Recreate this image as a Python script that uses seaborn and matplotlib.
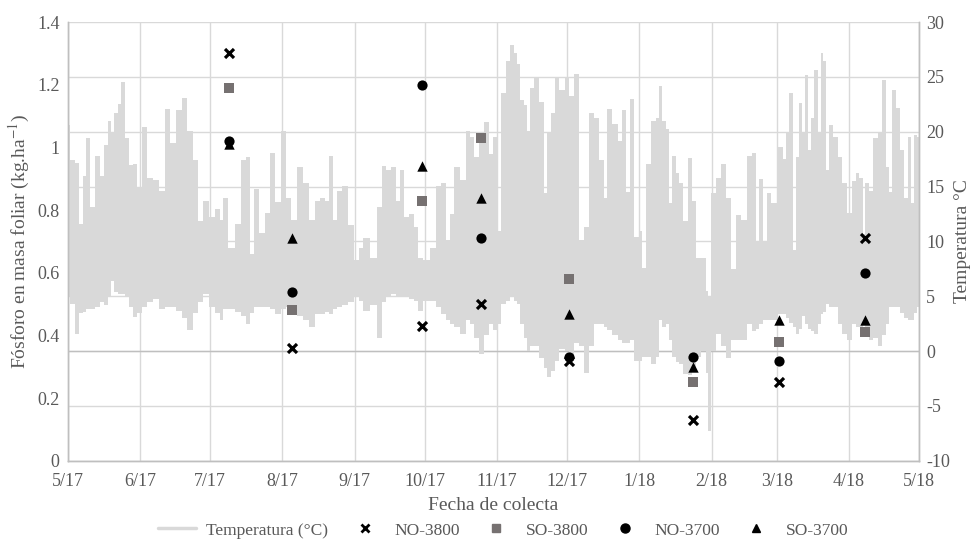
import numpy as np
import pandas as pd
import matplotlib
matplotlib.use("Agg")
import matplotlib.pyplot as plt
import matplotlib.dates as mdates
from matplotlib.lines import Line2D
from matplotlib.ticker import FuncFormatter
import seaborn as sns

# %% data
# collection dates and foliar phosphorus (kg/ha)
sample_dates = ["2017-07-09", "2017-08-05", "2017-09-30", "2017-10-25",
                "2017-12-02", "2018-01-24", "2018-03-02", "2018-04-08"]
no_3800 = [1.30, 0.36, 0.43, 0.50, 0.32, 0.13, 0.25, 0.71]
so_3800 = [1.19, 0.48, 0.83, 1.03, 0.58, 0.25, 0.38, 0.41]
no_3700 = [1.02, 0.54, 1.20, 0.71, 0.33, 0.33, 0.32, 0.60]
so_3700 = [1.01, 0.71, 0.94, 0.84, 0.47, 0.30, 0.45, 0.45]

# temperature envelope: days after 2017-05-01, max and min (degC)
temp_day = [0, 2, 4, 5.6, 7, 8.4, 10.6, 12.7, 14.5, 16.3, 17.7, 19, 20.6, 22, 23.4,
            25.6, 27, 28.4, 30.5, 32.7, 34.9, 37.7, 40.6, 42.7, 44.9, 47.7, 49.9,
            52, 54.9, 57, 59.2,
            62, 64.3, 66, 67.2, 70, 72.9, 75.8, 77.2, 78.6, 80.8, 82.9, 85.8, 87.9,
            90.1, 92.2, 94.4, 97.2, 99.4, 102.2, 104.4, 107.2, 109.3, 111, 112.9,
            114.4, 116.5, 118.6, 121.5,
            124, 125.2, 128, 130.9, 133.8, 135.2, 137.3, 139.5, 141.6, 143.1, 145.2,
            147.4, 149.5, 150.9, 153.8, 156.6, 158.8, 161, 163.1, 164.5, 166.7,
            169.5, 171.7, 173.1, 175.3, 177.4, 179.6, 181.7,
            183.2, 184.7, 186.8, 189, 190.4, 191.8, 193.2, 194.7, 196.1, 197.5,
            198.9, 201.1, 203.3, 204.7, 206.1, 208.3, 209.7, 211.9, 214, 216.1,
            218.3, 220.4, 222.6, 224.7, 226.9, 229, 230.4, 231.9, 234.7, 236.8,
            238.3, 240.4, 241.8,
            244.1, 245.6, 247, 249.1, 251.3, 252.7, 253.9, 255.6, 257, 258.4, 259.9,
            261.3, 262.7, 264.9, 267, 268.4, 270.6, 272.7, 274.2, 274.9, 277, 279.2,
            281.3, 283.5, 285.6, 287.8, 289.9, 292.1, 294.2, 295.6, 297.1, 299.2,
            300.6, 302.8,
            305.7, 307.2, 308.6, 310, 311.5, 312.9, 313.9, 315.7, 316.7, 317.9, 319.3,
            321, 322.2, 323.3, 324.3, 325.7, 327.2, 329.3, 331.4, 332.9, 335, 337.2,
            338.6, 340, 341.5, 342.5, 344.3, 346.5, 347.9, 350, 351.5, 352.9, 354.3,
            355.8, 357.6, 359.3, 360.8, 362.2, 363.6, 365]
temp_max = [20.6, 17.4, 17.2, 11.6, 16, 19.4, 13.1, 17.8, 16, 18.8, 21, 20, 21.7, 22.5, 24.5,
            19.4, 17, 17.1, 15, 20.4, 15.8, 15.6, 14.6, 22.1, 19, 22, 23.1,
            20.1, 17.4, 11.9, 13.7,
            12.2, 13, 12, 14, 9.4, 11.6, 17.4, 17.7, 8.9, 14.8, 10.8, 12.6, 18.1,
            13.6, 20.1, 14, 12, 16.8, 15.3, 12, 13.7, 14, 13.7, 17.8,
            12, 14.6, 15.1, 11.5,
            8.3, 9.4, 10.3, 8.5, 13.1, 16.9, 16.5, 16.8, 13.7, 16.5, 12.2,
            12.5, 11.3, 8.5, 8.3, 9.4, 15.1, 15.3, 10.1, 12.5, 16.8,
            15.6, 20.1, 19.5, 17.7, 19.5, 20.9, 18,
            19.5, 11, 23.5, 26.5, 27.9, 27.2, 26.2, 22.9, 22.4, 20.1,
            24, 24.9, 22.7, 14.4, 19.9, 21.7, 25, 23.8, 25, 23.3,
            25.3, 10.1, 11.3, 21.7, 21.3, 17.4, 14, 22.1, 20.7, 19.2,
            22, 14.5, 23,
            10.4, 11, 7.6, 17.1, 21, 21.3, 24.2, 21, 20.3, 13.5, 17.8,
            16.2, 15.3, 11.9, 17.6, 13.7, 8.5, 8.5, 5.5, 5, 14.4, 15.8,
            17.1, 14, 7.5, 12.4, 12, 17.8, 18.1, 10, 15.7, 10,
            14.4, 13.5,
            18.6, 17.5, 19.9, 23.5, 9.2, 17.7, 22.6, 19.9, 25.2, 18.3, 21.3,
            25.6, 20, 27.2, 26.5, 16.5, 20.6, 19.5, 17.7, 15.3, 12.6, 15.5,
            16.2, 15.8, 10.7, 15.3, 14.6, 19.4, 19.9, 24.7, 16.8, 14.5, 23.8,
            22.2, 18.3, 14, 19.5, 13.5, 19.7, 19.5]
temp_min = [5.0, 4.3, 1.6, 3.5, 3.6, 3.8, 3.8, 4.0, 4.5, 4.2, 5, 6.4, 5.4, 5.2, 5.2,
            5, 4, 3.1, 3.5, 4, 4.5, 4.8, 3.8, 4, 4, 3.7, 3,
            1.9, 3.5, 4.5, 5.2,
            4, 3.5, 2.8, 3.8, 3.8, 3.6, 3.2, 2.5, 3.5, 4, 4, 4, 3.8,
            3.4, 3.8, 4, 3.4, 3.2, 2.8, 2.2, 3.4, 3.4, 3.6, 3.4,
            3.8, 4, 4.2, 4.5,
            4.9, 4.6, 3.7, 4.2, 1.2, 4.5, 5, 5.2, 5, 5, 5,
            4.8, 4.6, 3.7, 4.6, 4.6, 4, 3.4, 2.8, 2.5, 2.2,
            1.6, 2.8, 2.5, 1.2, -0.3, 1.5, 2.5,
            1.9, 2.5, 4.3, 4.6, 4.9, 4.6, 4.3, 2.5, 1.2, 0,
            0.5, 0.5, -0.6, -1.5, -2.4, -1.8, -0.9, 0.2, 0, -0.9,
            0.7, 0.5, -2, 0.5, 2.5, 2.5, 2.2, 1.9, 1.5, 1,
            0.7, 0.7, 1,
            -0.9, -0.9, -0.5, -0.5, -1.2, -0.5, 2.8, 2.2, 2.5, 1, -0.5,
            -1, -1.2, -2.1, -2.2, -1.5, -0.5, 0, -2, -7.3, 0, 1.6,
            0.5, -0.6, 1, 1, 1, 2.5, 1.8, 2, 2.5, 2.8,
            2.8, 2.8,
            3.4, 3.4, 3, 2.6, 2.2, 1.6, 2, 3.2, 2.5, 2, 1.8,
            1.6, 2.5, 3.4, 3.6, 4.3, 4, 4, 2.5, 1.6, 1, 2.5,
            2.2, 2.2, 2.5, 2, 1, 1.2, 0.5, 1.5, 2.5, 4, 4,
            4, 3.5, 3, 2.8, 2.8, 3.5, 4]

# %% build frames
sample_dates = pd.to_datetime(sample_dates)
temp_dates = pd.Timestamp("2017-05-01") + pd.to_timedelta(temp_day, unit="D")

sns.set_style("white")
plt.rcParams["font.family"] = ["Liberation Serif", "DejaVu Serif"]
plt.rcParams["mathtext.fontset"] = "stix"
plt.rcParams["axes.unicode_minus"] = False

text_col = "#595959"
grid_col = "#d9d9d9"
band_col = "#d9d9d9"

fig = plt.figure(figsize=(9.71, 5.46), dpi=100)
ax = fig.add_axes([0.070, 0.156, 0.8765, 0.8035])  # temperature axis (right side)
ax2 = ax.twinx()                                   # phosphorus axis (left side)

# temperature band
ax.fill_between(temp_dates, temp_min, temp_max, step="mid", color=band_col,
                linewidth=0, zorder=2)
ax.set_ylim(-10, 30)
ax.set_yticks(np.arange(-10, 31, 5))
ax.set_xlim(pd.Timestamp("2017-05-01"), pd.Timestamp("2018-05-01"))
ax.xaxis.set_major_locator(mdates.MonthLocator())
ax.xaxis.set_major_formatter(FuncFormatter(
    lambda v, p: f"{mdates.num2date(v).month}/{mdates.num2date(v):%y}"))
ax.grid(True, color=grid_col, linewidth=1)
ax.set_axisbelow(True)
ax.axhline(0, color="#bfbfbf", linewidth=1, zorder=1)
ax.yaxis.tick_right()
ax.yaxis.set_label_position("right")
ax.set_ylabel("Temperatura °C", color=text_col, fontsize=14, labelpad=3)
ax.set_xlabel("Fecha de colecta", color=text_col, fontsize=14, labelpad=5)
ax.tick_params(axis="x", length=0, labelsize=13, colors=text_col, pad=9)
ax.tick_params(axis="y", length=0, labelsize=13, colors=text_col, pad=5)

# phosphorus markers
sns.scatterplot(x=sample_dates, y=no_3800, ax=ax2, marker="x", color="black",
                s=42, linewidth=2.3, zorder=5)
sns.scatterplot(x=sample_dates, y=so_3800, ax=ax2, marker="s", color="#767171",
                s=52, linewidth=0, zorder=5)
sns.scatterplot(x=sample_dates, y=so_3700, ax=ax2, marker="^", color="black",
                s=56, linewidth=0, zorder=5)
sns.scatterplot(x=sample_dates, y=no_3700, ax=ax2, marker="o", color="black",
                s=54, linewidth=0, zorder=6)
ax2.set_ylim(0, 1.4)
ax2.set_yticks(np.arange(0, 1.41, 0.2))
ax2.yaxis.set_major_formatter(FuncFormatter(lambda v, p: f"{v:g}"))
ax2.yaxis.tick_left()
ax2.yaxis.set_label_position("left")
ax2.set_ylabel("Fósforo en masa foliar (kg.ha$^{-1}$)", color=text_col,
               fontsize=14, labelpad=4)
ax2.tick_params(axis="y", length=0, labelsize=13, colors=text_col, pad=6)
ax2.grid(False)

for a in (ax, ax2):
    for side in ("left", "right", "bottom"):
        a.spines[side].set_color("#bfbfbf")
        a.spines[side].set_linewidth(1)
    a.spines["top"].set_visible(False)

handles = [
    Line2D([], [], color=band_col, linewidth=2.5),
    Line2D([], [], marker="x", color="black", linestyle="", markersize=6, markeredgewidth=2),
    Line2D([], [], marker="s", color="#767171", linestyle="", markersize=6),
    Line2D([], [], marker="o", color="black", linestyle="", markersize=6.5),
    Line2D([], [], marker="^", color="black", linestyle="", markersize=6),
]
labels = ["Temperatura (°C)", "NO-3800", "SO-3800", "NO-3700", "SO-3700"]
fig.legend(handles, labels, loc="lower center", bbox_to_anchor=(0.518, -0.015),
           ncol=5, frameon=False, fontsize=12.5, labelcolor=text_col,
           handlelength=2.2, columnspacing=1.0, handletextpad=0.6)

fig.savefig("out.png", dpi=100)
